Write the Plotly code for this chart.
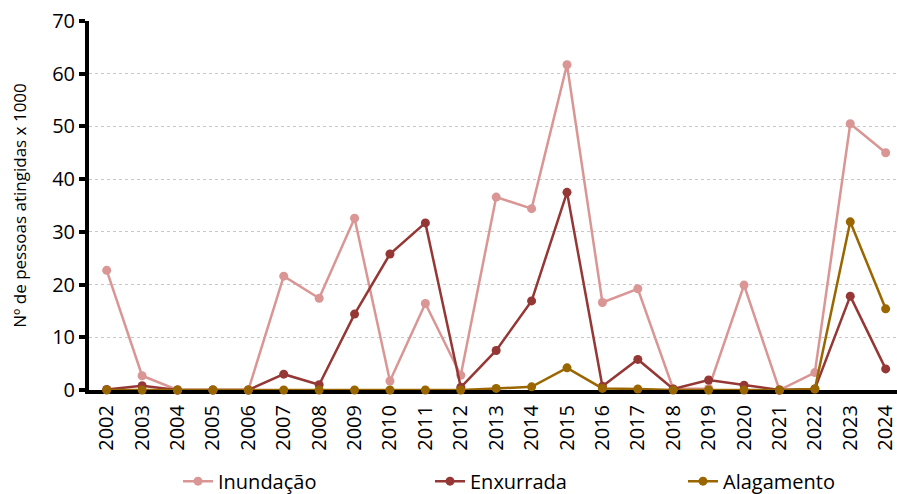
import plotly.graph_objects as go

# Anos
anos = list(range(2002, 2025))

# Pessoas atingidas (x 1000) por tipo de evento
inundacao = [22.7, 2.7, 0, 0, 0, 21.6, 17.4, 32.6, 1.7, 16.4, 2.8, 36.6,
             34.4, 61.7, 16.6, 19.2, 0.2, 0.3, 19.9, 0, 3.3, 50.5, 45.0]
enxurrada = [0.1, 0.8, 0, 0, 0, 3.0, 1.0, 14.4, 25.8, 31.7, 0.5, 7.5,
             16.9, 37.5, 0.7, 5.8, 0.2, 1.9, 0.9, 0, 0.2, 17.8, 4.0]
alagamento = [0, 0, 0, 0, 0, 0, 0, 0, 0, 0, 0, 0.3,
              0.6, 4.2, 0.3, 0.2, 0, 0, 0, 0, 0.2, 31.9, 15.4]

series = [
    ('Inundação', inundacao, '#D99694', 'legend'),
    ('Enxurrada', enxurrada, '#953735', 'legend2'),
    ('Alagamento', alagamento, '#996600', 'legend3'),
]

FONT = 'Open Sans'

fig = go.Figure()
for nome, valores, cor, leg in series:
    fig.add_trace(go.Scatter(
        x=anos, y=valores, name=nome, mode='lines+markers',
        line=dict(color=cor, width=2.5),
        marker=dict(color=cor, size=9),
        cliponaxis=False, legend=leg,
    ))

# uma legenda por série, para posicionar como no original
leg_base = dict(orientation='h', xref='container', yref='container',
                xanchor='left', yanchor='middle', y=0.026,
                font=dict(size=20), bgcolor='rgba(0,0,0,0)')

fig.update_layout(
    width=897, height=494,
    margin=dict(l=89, r=0, t=21, b=104),
    plot_bgcolor='white', paper_bgcolor='white',
    font=dict(family=FONT, color='black', size=20),
    showlegend=True,
    legend=dict(leg_base, x=178 / 897),
    legend2=dict(leg_base, x=430 / 897),
    legend3=dict(leg_base, x=683 / 897),
)

fig.update_xaxes(
    range=[2001.5, 2024.32], tickmode='array', tickvals=anos,
    ticktext=[str(a) for a in anos], tickangle=-90,
    showgrid=False, showline=True, linecolor='black', linewidth=4,
    ticks='', layer='below traces', zeroline=False, automargin=False,
    tickfont=dict(size=20), ticklabeloverflow='allow', ticklabelstandoff=3,
)
fig.update_yaxes(
    range=[0, 70], dtick=10, showgrid=True, gridcolor='#C8C8C8',
    griddash='dot', gridwidth=1, showline=True, linecolor='black',
    linewidth=4, ticks='outside', ticklen=6, tickwidth=4, tickcolor='black',
    zeroline=False, tickfont=dict(size=20), automargin=False,
    title=dict(text='Nº de pessoas atingidas x 1000', font=dict(size=17), standoff=22),
)

# tira a margem padrão do <body> para o gráfico ocupar a janela inteira
fig.write_html('out.html', config={'displayModeBar': False},
               post_script="document.body.style.margin='0';")
